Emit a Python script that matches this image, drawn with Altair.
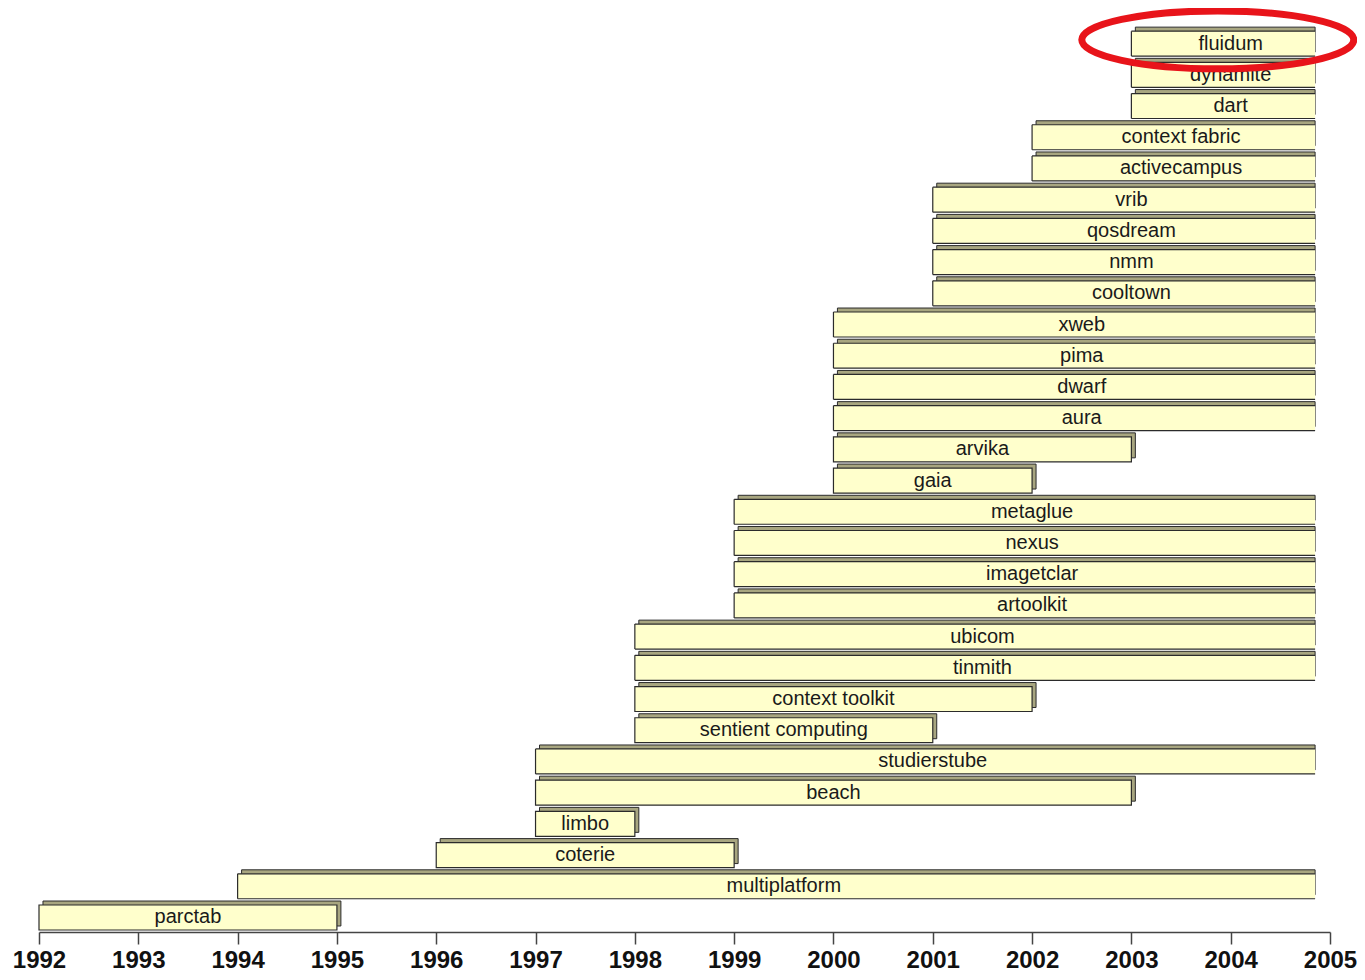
import altair as alt
import pandas as pd

# ---- data ----
names = ["parctab", "multiplatform", "coterie", "limbo", "beach", "studierstube",
         "sentient computing", "context toolkit", "tinmith", "ubicom", "artoolkit",
         "imagetclar", "nexus", "metaglue", "gaia", "arvika", "aura", "dwarf", "pima",
         "xweb", "cooltown", "nmm", "qosdream", "vrib", "activecampus",
         "context fabric", "dart", "dynamite", "fluidum"]
starts = [1992, 1994, 1996, 1997, 1997, 1997, 1998, 1998, 1998, 1998, 1999, 1999,
          1999, 1999, 2000, 2000, 2000, 2000, 2000, 2000, 2001, 2001, 2001, 2001,
          2002, 2002, 2003, 2003, 2003]
# None = still running (bar runs off to the right edge)
ends = [1995, None, 1999, 1998, 2003, None, 2001, 2002, None, None, None, None,
        None, None, 2002, 2003, None, None, None, None, None, None, None, None,
        None, None, None, None, None]
years = list(range(1992, 2006))
highlight_name = ["fluidum"]

AXIS_END = 2005
CUT = 2004.85   # where the running bars are cut off in the picture

df = pd.DataFrame({"name": names, "start": starts, "end": ends})
df["idx"] = range(len(df))
df["open"] = df["end"].isna()
df["label_end"] = df["end"].fillna(AXIS_END)
df["draw_end"] = df["end"].fillna(CUT)
df["mid"] = (df["start"] + df["label_end"]) / 2
df["lo"] = df["idx"] - 0.40
df["hi"] = df["idx"] + 0.40
# 3D depth (top / side faces)
DX, DY = 0.040, 0.128
df["bx"] = df["start"] + DX
df["bx2"] = df.apply(lambda r: r["draw_end"] if r["open"] else r["draw_end"] + DX, axis=1)
df["by"] = df["lo"] + DY
df["by2"] = df["hi"] + DY

hl = df[df["name"].isin(highlight_name)][["idx"]].copy()
hl["cx"] = 2003.87
hl["cy"] = hl["idx"] + 0.12

xs = alt.Scale(domain=[1992, 2005], nice=False, zero=False)
ys = alt.Scale(domain=[-0.4646, 29.141], nice=False, zero=False)

base = alt.Chart(df)

back = base.mark_rect(fill="#A8A680", stroke="#2b2b2b", strokeWidth=1).encode(
    x=alt.X("bx:Q", scale=xs, axis=alt.Axis(values=years, format="d", title=None,
                                              grid=False, labelFlush=False,
                                              labelOverlap=False, labelBound=False)),
    x2="bx2:Q",
    y=alt.Y("by:Q", scale=ys, axis=None),
    y2="by2:Q",
)

front = base.mark_rect(fill="#FFFFCC", strokeWidth=0).encode(
    x="start:Q", x2="draw_end:Q", y="lo:Q", y2="hi:Q"
)

closed_border = base.transform_filter("!datum.open").mark_rect(
    fillOpacity=0, stroke="#2b2b2b", strokeWidth=1.2
).encode(x="start:Q", x2="draw_end:Q", y="lo:Q", y2="hi:Q")

open_base = base.transform_filter("datum.open")
open_left = open_base.mark_rule(color="#2b2b2b", strokeWidth=1.2).encode(
    x="start:Q", y="lo:Q", y2="hi:Q")
open_top = open_base.mark_rule(color="#2b2b2b", strokeWidth=1.2).encode(
    x="start:Q", x2="draw_end:Q", y="hi:Q")
open_bot = open_base.mark_rule(color="#2b2b2b", strokeWidth=1.2).encode(
    x="start:Q", x2="draw_end:Q", y="lo:Q")

labels = base.mark_text(font="Liberation Sans", fontSize=20, color="#1a1a1a",
                        align="center", baseline="middle").encode(
    x="mid:Q", y="idx:Q", text="name:N")

ry = 0.213
k = 0.5523
ell = (f"M-1,0C-1,{-k*ry:.4f},{-k:.4f},{-ry},0,{-ry}"
       f"C{k:.4f},{-ry},1,{-k*ry:.4f},1,0"
       f"C1,{k*ry:.4f},{k:.4f},{ry},0,{ry}"
       f"C{-k:.4f},{ry},-1,{k*ry:.4f},-1,0Z")
ellipse = alt.Chart(hl).mark_point(shape=ell, size=272 * 272, filled=False,
                                    stroke="#E8141A", strokeWidth=7,
                                    opacity=1, strokeOpacity=1).encode(
    x="cx:Q", y="cy:Q")

chart = alt.layer(back, front, closed_border, open_left, open_top, open_bot,
                  labels, ellipse).properties(
    width=1291, height=924,
    autosize=alt.AutoSizeParams(type="none"),
    padding={"left": 31, "top": 0, "right": 27, "bottom": 40},
).configure_view(stroke=None).configure_axis(
    domainColor="#444444", domainWidth=1.5, tickColor="#444444", tickWidth=1.5,
    tickSize=12, labelFontSize=24, labelFontWeight="bold",
    labelFont="Liberation Sans", labelColor="#111111", labelPadding=4,
)

chart.save("out.html", embed_options={"renderer": "svg", "actions": False})
